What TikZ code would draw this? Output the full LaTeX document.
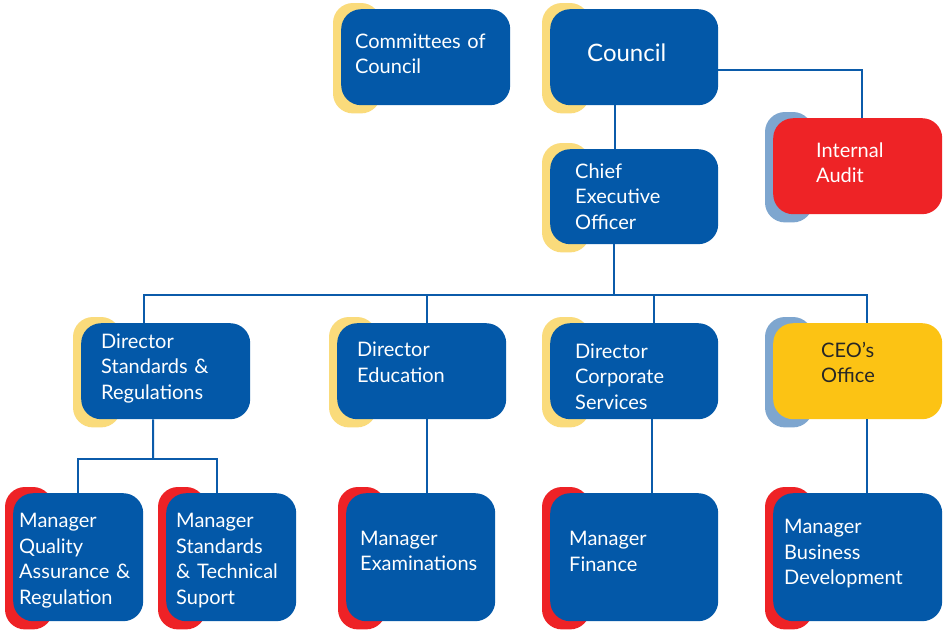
\documentclass[tikz,border=0pt]{standalone}
\usepackage{fontspec}
\setmainfont{Lato}
\usetikzlibrary{backgrounds}

\definecolor{boxblue}{HTML}{0358A8}
\definecolor{linkblue}{HTML}{0B5BAA}
\definecolor{accyellow}{HTML}{FADB7B}
\definecolor{accred}{HTML}{EE2226}
\definecolor{accgrey}{HTML}{7EA6CF}
\definecolor{auditred}{HTML}{EE2326}
\definecolor{officeyellow}{HTML}{FCC314}

% extra depth under the last line lifts the text in its box
\newcommand{\lift}[1]{\rule[-#1]{0pt}{0pt}}

\begin{document}
\begin{tikzpicture}[x=1pt, y=-1pt]
   \tikzstyle{box}=[anchor=north west, rounded corners=20pt, fill=boxblue, text=white, align=left,
                    inner ysep=0pt, minimum height=96pt, font=\fontsize{20}{25.5}\selectfont]
   \tikzstyle{tall}=[minimum height=128pt]
   \tikzstyle{link}=[draw=linkblue, line width=2pt]

\useasboundingbox (0,0) rectangle (946,630);

% top
\node[box, text width=141pt, inner xsep=14pt] (comm) at (341,9) {Committees of\\Council\lift{7pt}};
\node[box, text width=94pt, inner xsep=37pt, font=\fontsize{24}{28}\selectfont] (council) at (550,9) {Council\lift{9pt}};
\node[box, text width=118pt, inner xsep=25pt, minimum height=95pt] (ceo) at (550,149) {Chief\\Executive\\Officer};
\node[box, text width=83pt, inner xsep=43pt, fill=auditred] (audit) at (773,118) {Internal\\Audit\lift{7pt}};

% directors
\node[box, text width=129pt, inner xsep=20pt] (dsr) at (81,323) {Director\\Standards \&\\Regulations\lift{10pt}};
\node[box, text width=129pt, inner xsep=20pt] (ded) at (337,323) {Director\\Education\lift{18pt}};
\node[box, text width=118pt, inner xsep=25pt] (dcs) at (550,323) {\rule{0pt}{25pt}Director\\Corporate\\Services};
\node[box, text width=73pt, inner xsep=48pt, fill=officeyellow, text=black!85] (office) at (773,323) {CEO’s\\Office\lift{18pt}};

% managers
\node[box, tall, text width=118pt, inner xsep=6pt] (mqa) at (13,493) {\rule{0pt}{21pt}Manager\\Quality\\Assurance \&\\Regulation};
\node[box, tall, text width=110pt, inner xsep=10pt] (mst) at (166,493) {\rule{0pt}{21pt}Manager\\Standards\\\& Technical\\Suport};
\node[box, tall, text width=121pt, inner xsep=14pt] (mex) at (346,493) {Manager\\Examinations\lift{13pt}};
\node[box, tall, text width=130pt, inner xsep=19pt] (mfi) at (550,493) {Manager\\Finance\lift{12pt}};
\node[box, tall, text width=147pt, inner xsep=11pt] (mbd) at (773,493) {Manager\\Business\\Development\lift{10pt}};

% accents behind the boxes
\begin{pgfonlayer}{background}
\fill[white] (0,0) rectangle (946,630);
\foreach \n/\c in {comm/accyellow, council/accyellow, ceo/accyellow, dsr/accyellow, ded/accyellow,
                   dcs/accyellow, audit/accgrey, office/accgrey, mqa/accred, mst/accred,
                   mex/accred, mfi/accred, mbd/accred}
   \fill[\c, rounded corners=20pt] ([xshift=-8pt, yshift=6pt]\n.north west) rectangle ([xshift=40pt, yshift=-8pt]\n.south west);
\end{pgfonlayer}

% connectors
\coordinate (hub) at (614,295);
\coordinate (fork) at (153,459);
\draw[link] ([yshift=-13pt]council.east) -| ([xshift=4.5pt]audit.north);
\draw[link] ([xshift=-19pt]council.south) -- ([xshift=-19pt]ceo.north);
\draw[link] (ceo.south -| hub) -- (hub);
\draw[link] ([xshift=-21.5pt]dsr.north) |- (hub) -| ([xshift=9.5pt]office.north);
\draw[link] ([xshift=5.5pt]ded.north) -- ([xshift=5.5pt]ded.north |- hub);
\draw[link] ([xshift=20pt]dcs.north) -- ([xshift=20pt]dcs.north |- hub);
\draw[link] ([xshift=-12.5pt]dsr.south) -- (fork);
\draw[link] (mqa.north) |- (fork) -| ([xshift=-14pt]mst.north);
\draw[link] ([xshift=5pt]ded.south) -- ([xshift=6pt]mex.north);
\draw[link] ([xshift=18pt]dcs.south) -- ([xshift=18pt]mfi.north);
\draw[link] ([xshift=9.5pt]office.south) -- ([xshift=9.5pt]mbd.north);

\end{tikzpicture}
\end{document}
